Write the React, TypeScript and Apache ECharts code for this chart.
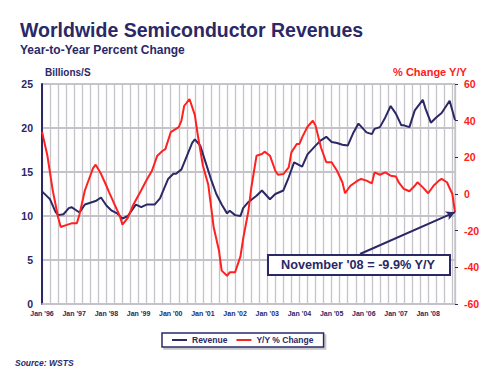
import React, { useEffect, useRef } from 'react';
import * as echarts from 'echarts';

// Month index: 0 = Jan 1996, 154 = Nov 2008
const yearLabels = ["Jan '96", "Jan '97", "Jan '98", "Jan '99", "Jan '00", "Jan '01", "Jan '02", "Jan '03", "Jan '04", "Jan '05", "Jan '06", "Jan '07", "Jan '08"];

const revenueMonths = [0, 2, 3, 5, 6, 8, 10, 11, 13, 14, 16, 18, 20, 22, 24, 26, 28, 30, 32, 35, 37, 39, 42, 44, 47, 49, 50, 52, 54, 56, 57, 59, 61, 63, 65, 67, 69, 70, 72, 74, 75, 77, 80, 82, 85, 87, 90, 92, 94, 97, 99, 102, 104, 106, 108, 110, 112, 114, 116, 118, 121, 123, 124, 126, 128, 130, 132, 134, 135, 137, 139, 142, 143, 145, 147, 149, 152, 154];
const revenueValues = [12.8, 12.2, 11.9, 10.5, 10.1, 10.2, 10.9, 11.0, 10.6, 10.4, 11.3, 11.5, 11.7, 12.1, 11.2, 10.6, 10.3, 9.7, 10.0, 11.3, 11.0, 11.3, 11.3, 12.0, 14.2, 14.8, 14.8, 15.3, 16.8, 18.3, 18.7, 18.0, 16.1, 14.2, 12.5, 11.3, 10.3, 10.6, 10.1, 10.0, 10.9, 11.6, 12.3, 12.9, 11.9, 12.5, 12.9, 14.4, 16.1, 15.6, 17.0, 18.0, 18.6, 19.0, 18.4, 18.3, 18.1, 18.0, 19.4, 20.5, 19.5, 19.3, 19.9, 20.1, 21.2, 22.5, 21.6, 20.3, 20.3, 20.1, 22.0, 23.2, 22.2, 20.6, 21.2, 21.7, 23.1, 20.9];

const yoyMonths = [0, 2, 4, 6, 7, 9, 11, 13, 14, 16, 17, 19, 20, 22, 24, 25, 27, 29, 30, 32, 34, 37, 39, 41, 43, 45, 46, 48, 51, 52, 53, 55, 57, 58, 60, 62, 63, 64, 66, 67, 69, 70, 72, 74, 75, 77, 78, 79, 80, 82, 83, 85, 87, 88, 90, 92, 93, 95, 96, 97, 99, 101, 102, 104, 106, 108, 110, 112, 113, 115, 118, 119, 121, 123, 124, 126, 128, 130, 132, 133, 135, 137, 139, 140, 142, 144, 146, 148, 149, 151, 153, 154];
const yoyValues = [34, 21, 2, -12.7, -18, -17, -16, -16, -11, 2, 6, 14, 16, 11, 4.5, 1, -5.5, -12, -16.7, -13, -6, 2, 7.6, 12.7, 20.9, 23.6, 24.5, 33.7, 36.5, 40, 48, 51.8, 43, 33, 15.4, 5, -6.4, -18, -31, -41.8, -44.6, -42.7, -42.7, -34, -24.5, -9, 3, 12, 20.9, 21.8, 23.1, 20.9, 12.7, 10.5, 10.9, 14.5, 22.7, 27.3, 27.3, 30.9, 36.7, 40, 37.3, 25.5, 17.3, 17.3, 12.7, 6.4, 0.4, 4.5, 7.6, 8.2, 7.3, 5.8, 11.8, 10.5, 11.8, 10, 9.5, 6.4, 2.7, 1.5, 4.5, 6.4, 3.6, 0.4, 4.5, 7.3, 8.2, 6.4, 0, -9.9];

const NAVY = '#2a2866';
const RED = '#ff2020';
const GRID = '#c6c2ca';
const FONT = '"Liberation Sans", Arial, Helvetica, sans-serif';

export default function App() {
  const ref = useRef<HTMLDivElement>(null);
  useEffect(() => {
    if (!ref.current) return;
    const chart = echarts.init(ref.current, undefined, { renderer: 'svg' });
    const lastIdx = yoyValues.length - 1;
    const lastMonth = yoyMonths[lastIdx];
    const lastVal = yoyValues[lastIdx];
    chart.setOption({
      animation: false,
      backgroundColor: '#ffffff',
      textStyle: { fontFamily: FONT },
      grid: { left: 42, right: 45, top: 84, bottom: 70, containLabel: false },
      legend: {
        left: 162,
        top: 333,
        padding: [2, 10],
        itemGap: 9,
        icon: 'rect',
        itemWidth: 15,
        itemHeight: 2,
        borderColor: NAVY,
        borderWidth: 1.5,
        backgroundColor: '#ffffff',
        shadowColor: 'rgba(140,140,150,0.5)',
        shadowOffsetX: 2,
        shadowOffsetY: 2,
        shadowBlur: 0,
        textStyle: { color: NAVY, fontSize: 8.5, fontWeight: 'bold', fontFamily: FONT, lineHeight: 10 },
        data: ['Revenue', 'Y/Y % Change'],
      },
      xAxis: {
        type: 'value',
        min: 0,
        max: 154,
        interval: 3,
        axisLine: { show: true, onZero: false, lineStyle: { color: GRID, width: 1.5 } },
        axisTick: { show: false },
        axisLabel: {
          color: NAVY,
          fontSize: 7,
          fontWeight: 'bold',
          fontFamily: FONT,
          margin: 6,
          hideOverlap: false,
          formatter: (v: number) => (v % 12 === 0 ? yearLabels[v / 12] ?? '' : ''),
        },
        splitLine: { show: true, lineStyle: { color: GRID, width: 1.3 } },
      },
      yAxis: [
        {
          type: 'value',
          position: 'left',
          min: 0,
          max: 25,
          interval: 5,
          axisLine: { show: true, lineStyle: { color: NAVY, width: 2 } },
          axisTick: { show: false },
          axisLabel: { color: NAVY, fontSize: 10.5, fontWeight: 'bold', fontFamily: FONT, margin: 9 },
          splitLine: { show: true, lineStyle: { color: GRID, width: 2 } },
        },
        {
          type: 'value',
          position: 'right',
          min: -60,
          max: 60,
          interval: 20,
          axisLine: { show: true, lineStyle: { color: GRID, width: 1.5 } },
          axisTick: { show: true, length: 3, lineStyle: { color: NAVY, width: 1 } },
          axisLabel: { color: RED, fontSize: 10.5, fontWeight: 'bold', fontFamily: FONT, margin: 9 },
          splitLine: { show: false },
        },
      ],
      series: [
        {
          name: 'Revenue',
          type: 'line',
          yAxisIndex: 0,
          symbol: 'none',
          color: NAVY,
          lineStyle: { color: NAVY, width: 2 },
          data: revenueMonths.map((m, i) => [m, revenueValues[i]]),
          z: 3,
        },
        {
          name: 'Y/Y % Change',
          type: 'line',
          yAxisIndex: 1,
          symbol: 'none',
          color: RED,
          lineStyle: { color: RED, width: 2 },
          data: yoyMonths.map((m, i) => [m, yoyValues[i]]),
          z: 4,
          markLine: {
            silent: true,
            symbol: ['none', 'arrow'],
            symbolSize: [7, 9],
            label: { show: false },
            lineStyle: { color: NAVY, width: 2, type: 'solid' },
            data: [[{ x: 360, y: 254 }, { coord: [lastMonth, lastVal] }]],
          },
        },
      ],
      graphic: [
        {
          type: 'text',
          left: 20,
          top: 20,
          z: 100,
          style: {
            text: 'Worldwide Semiconductor Revenues',
            font: `bold 19.5px ${FONT}`,
            fill: NAVY,
            textShadowColor: '#a9a9b3',
            textShadowOffsetX: 1.5,
            textShadowOffsetY: 1.5,
            textShadowBlur: 0,
          },
        },
        {
          type: 'text',
          left: 20,
          top: 44,
          z: 100,
          style: {
            text: 'Year-to-Year Percent Change',
            font: `bold 12px ${FONT}`,
            fill: NAVY,
            textShadowColor: '#b5b5bd',
            textShadowOffsetX: 1,
            textShadowOffsetY: 1,
            textShadowBlur: 0,
          },
        },
        {
          type: 'text',
          left: 45,
          top: 67,
          z: 100,
          style: { text: 'Billions/S', font: `bold 10px ${FONT}`, fill: NAVY },
        },
        {
          type: 'text',
          right: 33,
          top: 66.5,
          z: 100,
          style: { text: '% Change Y/Y', font: `bold 11px ${FONT}`, fill: RED },
        },
        {
          type: 'text',
          left: 15,
          top: 358,
          z: 100,
          style: { text: 'Source: WSTS', font: `italic bold 8.5px ${FONT}`, fill: NAVY },
        },
        {
          type: 'rect',
          left: 267,
          top: 254,
          z: 100,
          shape: { x: 0, y: 0, width: 182, height: 20 },
          style: { fill: '#ffffff', stroke: NAVY, lineWidth: 2 },
        },
        {
          type: 'text',
          x: 358,
          y: 264.5,
          z: 101,
          style: {
            text: `November '08 = ${lastVal}% Y/Y`,
            font: `bold 12.7px ${FONT}`,
            fill: NAVY,
            align: 'center',
            verticalAlign: 'middle',
          },
        },
      ],
    });
    return () => chart.dispose();
  }, []);
  return <div ref={ref} style={{ position: 'fixed', left: 0, top: 0, width: 500, height: 374 }} />;
}
